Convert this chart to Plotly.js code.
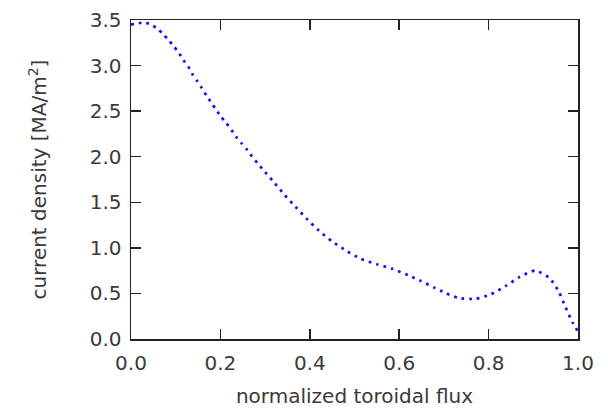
<!DOCTYPE html>
<html>
<head>
<meta charset="utf-8">
<script src="https://cdn.plot.ly/plotly-3.0.1.min.js"></script>
<style>html,body{margin:0;padding:0;background:#fff;}#chart{width:608px;height:409px;}</style>
</head>
<body>
<div id="chart"></div>
<script>
var fluxValues = [0, 0.024, 0.041, 0.057, 0.071, 0.084, 0.096, 0.107, 0.117, 0.128, 0.138, 0.148, 0.159, 0.169, 0.180, 0.190, 0.201, 0.213, 0.224, 0.235, 0.247, 0.259, 0.271, 0.283, 0.295, 0.318, 0.342, 0.368, 0.393, 0.420, 0.450, 0.481, 0.514, 0.550, 0.585, 0.620, 0.647, 0.680, 0.697, 0.732, 0.770, 0.805, 0.838, 0.869, 0.904, 0.936, 0.957, 0.972, 0.988, 1.0];
var currentDensity = [3.45, 3.47, 3.46, 3.41, 3.35, 3.28, 3.21, 3.14, 3.06, 2.99, 2.90, 2.83, 2.75, 2.67, 2.59, 2.52, 2.44, 2.37, 2.30, 2.22, 2.15, 2.08, 2.00, 1.93, 1.86, 1.73, 1.59, 1.45, 1.32, 1.19, 1.07, 0.97, 0.88, 0.82, 0.77, 0.70, 0.64, 0.56, 0.52, 0.45, 0.44, 0.49, 0.58, 0.68, 0.75, 0.67, 0.52, 0.35, 0.18, 0.08];
var xTicks = [0, 0.2, 0.4, 0.6, 0.8, 1.0];
var xTickLabels = ['0.0', '0.2', '0.4', '0.6', '0.8', '1.0'];
var yTicks = [0, 0.5, 1.0, 1.5, 2.0, 2.5, 3.0, 3.5];
var yTickLabels = ['0.0', '0.5', '1.0', '1.5', '2.0', '2.5', '3.0', '3.5'];

var font = {family: 'DejaVu Sans, sans-serif', size: 20, color: '#3a3a3a'};

var trace = {
  x: fluxValues,
  y: currentDensity,
  mode: 'lines',
  line: {color: '#1010ff', width: 2.7, dash: '2.7px,5.0px', shape: 'spline', smoothing: 0.6},
  hoverinfo: 'none'
};

var axisCommon = {
  showgrid: false,
  zeroline: false,
  showline: true,
  linecolor: '#222',
  linewidth: 1.5,
  mirror: 'allticks',
  ticks: 'inside',
  ticklen: 10,
  tickwidth: 1.5,
  tickcolor: '#222',
  tickfont: font
};

var layout = {
  width: 608,
  height: 409,
  margin: {l: 131, r: 30, t: 20, b: 70},
  paper_bgcolor: '#fff',
  plot_bgcolor: '#fff',
  showlegend: false,
  font: font,
  xaxis: Object.assign({}, axisCommon, {
    range: [0, 1],
    tickmode: 'array',
    tickvals: xTicks,
    ticktext: xTickLabels,
    ticklabelstandoff: 5,
    title: {text: 'normalized toroidal flux', font: font, standoff: 15}
  }),
  yaxis: Object.assign({}, axisCommon, {
    range: [0, 3.5],
    tickmode: 'array',
    tickvals: yTicks,
    ticktext: yTickLabels,
    ticklabelstandoff: 4,
    title: {text: 'current density [MA/m<sup>2</sup>]', font: font, standoff: 37}
  })
};

Plotly.newPlot('chart', [trace], layout, {displayModeBar: false, staticPlot: true});
</script>
</body>
</html>
